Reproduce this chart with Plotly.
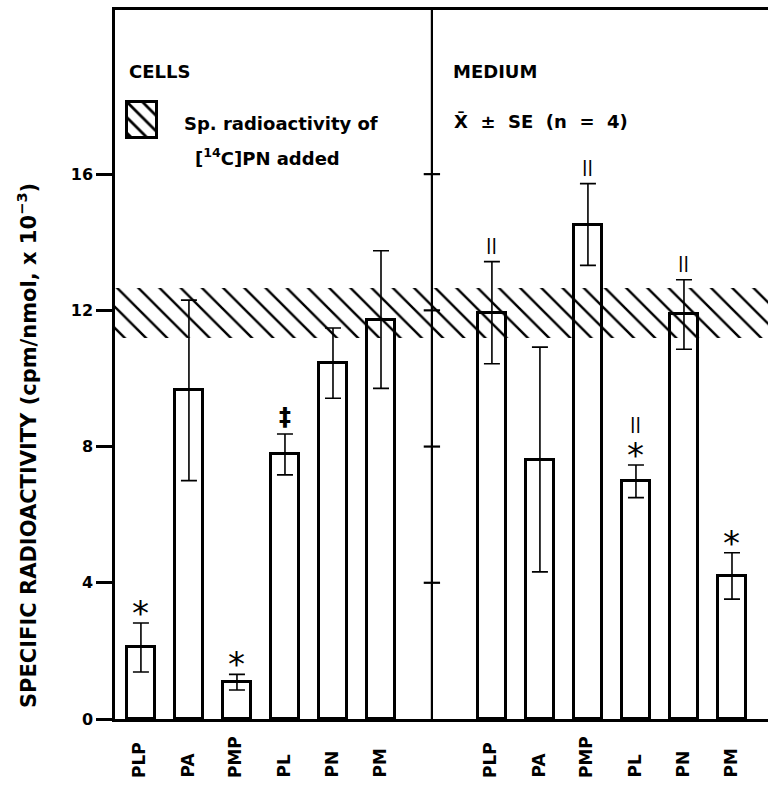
import plotly.graph_objects as go

# ---------------- data ----------------
categories = ["PLP", "PA", "PMP", "PL", "PN", "PM"]
cells_mean = [2.1, 9.65, 1.08, 7.77, 10.45, 11.73]
cells_se = [0.72, 2.65, 0.23, 0.6, 1.03, 2.02]
medium_mean = [11.93, 7.62, 14.52, 6.98, 11.88, 4.2]
medium_se = [1.5, 3.3, 1.2, 0.48, 1.02, 0.68]
# significance marks, listed from the error bar upward
cells_marks = [["*"], [], ["*"], ["‡"], [], []]
medium_marks = [["||"], [], ["||"], ["*", "||"], ["||"], ["*"]]
band_low, band_high = 11.2, 12.67  # Sp. radioactivity of [14C]PN added
y_ticks = [0, 4, 8, 12, 16]

# ---------------- layout helpers ----------------
X_MIN, X_MAX = -0.54, 13.06
Y_MAX = 20.82
MED_OFFSET = 7.31
DIVIDER = 6.06
BAR_W = 0.6
FONT = "DejaVu Sans"

cells_x = [i for i in range(len(categories))]
medium_x = [i + MED_OFFSET for i in range(len(categories))]

fig = go.Figure()

bar_style = dict(
    width=BAR_W,
    marker=dict(color="white", line=dict(color="black", width=3)),
    showlegend=False,
    hoverinfo="skip",
)
err_style = dict(type="data", color="black", thickness=1.6, width=8, visible=True)

fig.add_trace(go.Bar(x=cells_x, y=cells_mean, name="Cells",
                     error_y=dict(array=cells_se, **err_style), **bar_style))
fig.add_trace(go.Bar(x=medium_x, y=medium_mean, name="Medium",
                     error_y=dict(array=medium_se, **err_style), **bar_style))

# hatched band of added specific radioactivity
fig.add_trace(go.Bar(
    x=[(X_MIN + X_MAX) / 2], y=[band_high - band_low], base=[band_low],
    width=[X_MAX - X_MIN],
    marker=dict(color="rgba(0,0,0,0)", line=dict(width=0),
                pattern=dict(shape="\\", fgcolor="black", bgcolor="rgba(0,0,0,0)",
                             fgopacity=1, size=15, solidity=0.16,
                             fillmode="overlay")),
    showlegend=False, hoverinfo="skip",
))

# legend swatch (inset axes)
fig.add_trace(go.Bar(
    x=[0], y=[1], width=[1], xaxis="x2", yaxis="y2",
    marker=dict(color="white", line=dict(width=0),
                pattern=dict(shape="\\", fgcolor="black", bgcolor="white",
                             fgopacity=1, size=11, solidity=0.25)),
    showlegend=False, hoverinfo="skip",
))

PLOT_L, PLOT_W, PLOT_B, PLOT_H = 115, 653, 719, 709


def px_x(px):
    return (px - PLOT_L) / PLOT_W


def px_y(py):
    return (PLOT_B - py) / PLOT_H


annotations = []
# category labels (rotated, bottom-aligned)
for xs in (cells_x, medium_x):
    for xv, cat in zip(xs, categories):
        annotations.append(dict(
            x=xv - 0.04, xref="x", y=px_y(780), yref="paper",
            text=cat, textangle=-90, showarrow=False,
            xanchor="center", yanchor="bottom",
            font=dict(family=FONT, size=17, color="black", weight="bold"),
        ))

# significance marks
MARK_SIZE = {"*": 34, "‡": 24, "||": 15}
MARK_WEIGHT = {"*": "normal", "‡": "bold", "||": "bold"}
MARK_SHIFT = {"*": -12, "‡": 1, "||": 5}
MARK_STEP = {"*": 24, "‡": 24, "||": 20}
for xs, means, ses, marks in ((cells_x, cells_mean, cells_se, cells_marks),
                              (medium_x, medium_mean, medium_se, medium_marks)):
    for xv, m, s, mks in zip(xs, means, ses, marks):
        offset = 0
        for mk in mks:
            annotations.append(dict(
                x=xv, xref="x", y=m + s, yref="y", text=mk, showarrow=False,
                xanchor="center", yanchor="bottom",
                yshift=MARK_SHIFT[mk] + offset,
                font=dict(family=FONT, size=MARK_SIZE[mk], color="black",
                          weight=MARK_WEIGHT[mk]),
            ))
            offset += MARK_STEP[mk]

text_font = dict(family=FONT, size=18, color="black", weight="bold")
annotations += [
    dict(x=px_x(127), y=px_y(72), xref="paper", yref="paper", text="CELLS",
         showarrow=False, xanchor="left", yanchor="middle", font=text_font),
    dict(x=px_x(451), y=px_y(72), xref="paper", yref="paper", text="MEDIUM",
         showarrow=False, xanchor="left", yanchor="middle", font=text_font),
    dict(x=px_x(182), y=px_y(124), xref="paper", yref="paper",
         text="Sp. radioactivity of", showarrow=False, xanchor="left",
         yanchor="middle", font=text_font),
    dict(x=px_x(193), y=px_y(157), xref="paper", yref="paper",
         text="[<sup>14</sup>C]PN added", showarrow=False, xanchor="left",
         yanchor="middle", font=text_font),
    dict(x=px_x(452), y=px_y(122), xref="paper", yref="paper",
         text="X\u0304  ±  SE  (n  =  4)", showarrow=False, xanchor="left",
         yanchor="middle", font=text_font),
    dict(x=px_x(27), y=px_y(446), xref="paper", yref="paper",
         text="SPECIFIC RADIOACTIVITY (cpm/nmol, x 10<sup>−3</sup>)",
         textangle=-90, showarrow=False, xanchor="center", yanchor="middle",
         font=dict(family=FONT, size=21, color="black", weight="bold")),
]

shapes = [dict(type="line", xref="x", yref="paper", x0=DIVIDER, x1=DIVIDER,
               y0=0, y1=1, line=dict(color="black", width=2.2))]
for t in y_ticks[1:]:
    shapes.append(dict(type="line", xref="x", yref="y", x0=DIVIDER - 0.17,
                       x1=DIVIDER + 0.17, y0=t, y1=t,
                       line=dict(color="black", width=2.2)))

fig.update_layout(
    width=768, height=785,
    margin=dict(l=PLOT_L, r=0, t=10, b=66),
    paper_bgcolor="white", plot_bgcolor="white",
    barmode="overlay", bargap=0,
    xaxis=dict(range=[X_MIN, X_MAX], showgrid=False, zeroline=False,
               showticklabels=False, ticks="", showline=True, linecolor="black",
               linewidth=2.5, mirror=True, fixedrange=True),
    yaxis=dict(range=[0, Y_MAX], tickvals=y_ticks, showgrid=False, zeroline=False,
               ticks="outside", ticklen=16, tickwidth=2.5, tickcolor="black",
               showline=True, linecolor="black", linewidth=2.5,
               tickfont=dict(family=FONT, size=16, color="black", weight="bold")),
    xaxis2=dict(domain=[px_x(128), px_x(155)], range=[-0.5, 0.5], anchor="y2",
                showgrid=False, zeroline=False, showticklabels=False, ticks="",
                showline=True, mirror=True, linecolor="black", linewidth=2.5),
    yaxis2=dict(domain=[px_y(136), px_y(103)], range=[0, 1], anchor="x2",
                showgrid=False, zeroline=False, showticklabels=False, ticks="",
                showline=True, mirror=True, linecolor="black", linewidth=2.5),
    annotations=annotations,
    shapes=shapes,
)

fig.write_html(
    "out.html",
    config={"displayModeBar": False},
    post_script="document.body.style.margin='0';document.body.style.overflow='hidden';",
)
